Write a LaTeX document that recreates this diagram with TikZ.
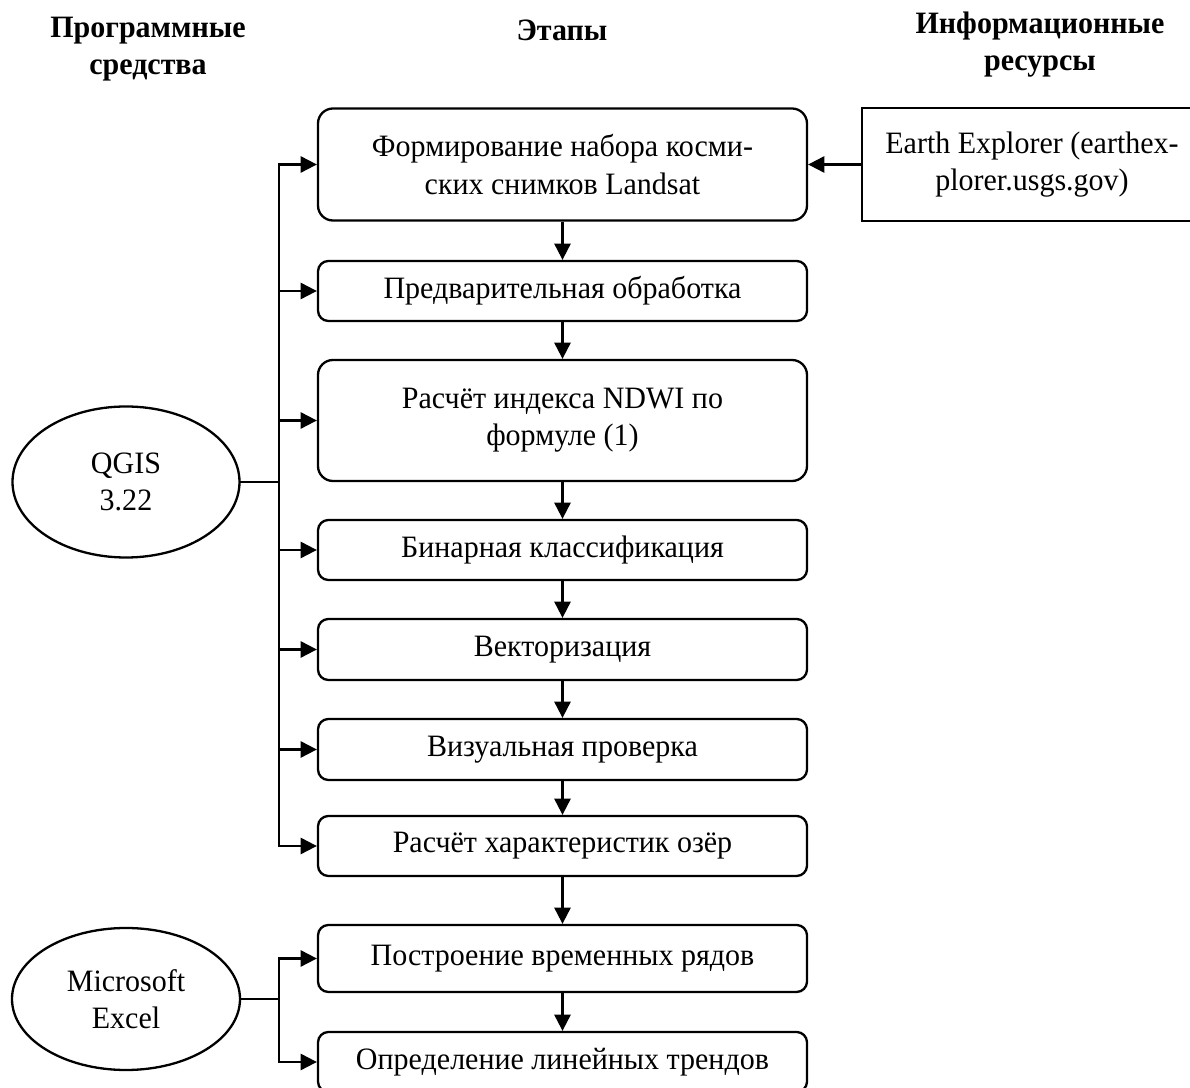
\documentclass[tikz,border=0pt]{standalone}
\usepackage{fontspec}
\setmainfont{Liberation Serif}[FakeStretch=0.965]
\usetikzlibrary{shapes.geometric,arrows.meta,positioning}

\def\px{0.4341pt}
\tikzset{
  every node/.style={font=\fontsize{13.5}{16.1}\selectfont},
  stagebox/.style={draw,line width=1pt,rounded corners=#1,minimum width=489*\px,inner sep=0pt,align=center},
  stagebox/.default=4.5pt,
  srcbox/.style={draw,line width=1pt,minimum width=340*\px,minimum height=113*\px,inner sep=0pt,align=center},
  tool/.style={draw,ellipse,line width=1pt,inner sep=0pt,align=center},
  head/.style={font=\fontsize{13.5}{16.1}\selectfont\bfseries,align=center},
  bus/.style={line width=0.9pt,line cap=rect},
  link/.style={line width=0.9pt,-{Triangle[length=7pt,width=7pt]}}
}

\begin{document}
\begin{tikzpicture}[x=\px,y=-\px]
\useasboundingbox (0,0) rectangle (1190,1088);

% column heads
\node[head] (hsoft) at (148,49) {Программные\\средства};
\node[head] (hstep) at (562,30) {Этапы};
\node[head] (hinfo) at (1040,45) {Информационные\\ресурсы};

% stages
\foreach \t/\y/\h/\r [count=\n] in {
    {Формирование набора косми-\\ских снимков Landsat}/164.5/112/6.5pt,
    {Предварительная обработка}/291/60/4.5pt,
    {Расчёт индекса NDWI по\\формуле (1)}/420.5/121/6.5pt,
    {Бинарная классификация}/550/60/4.5pt,
    {Векторизация}/649.5/61/4.5pt,
    {Визуальная проверка}/749.5/61/4.5pt,
    {Расчёт характеристик озёр}/846/60/4.5pt,
    {Построение временных рядов}/958.5/67/4.5pt,
    {Определение линейных трендов}/1062/60/4.5pt}
  \node[stagebox=\r,minimum height=\h*\px] (s\n) at (562.5,\y) {\t};

\foreach \a/\b in {1/2,2/3,3/4,4/5,5/6,6/7,7/8,8/9}
  \draw[link] (s\a.south) -- (s\b.north);

% information resource
\node[srcbox] (src) at (1032,164.5) {Earth Explorer (earthex-\\plorer.usgs.gov)};
\draw[link] (src.west) -- (src.west -| s1.east);

% software
\node[tool,minimum width=227*\px,minimum height=151*\px] (qgis) at (126,482) {QGIS\\3.22};
\node[tool,minimum width=228*\px,minimum height=142*\px] (excel) at (126,999) {Microsoft\\Excel};

\coordinate (qbus) at (279,482);
\coordinate (xbus) at (279,999);

\draw[bus] (qgis.east) -- (qbus);
\draw[bus] (qbus|-s1.west) -- (qbus|-s7.west);
\foreach \n in {1,...,7}
  \draw[link] (qbus|-s\n.west) -- (s\n.west);

\draw[bus] (excel.east) -- (xbus);
\draw[bus] (xbus|-s8.west) -- (xbus|-s9.west);
\foreach \n in {8,9}
  \draw[link] (xbus|-s\n.west) -- (s\n.west);
\end{tikzpicture}
\end{document}
